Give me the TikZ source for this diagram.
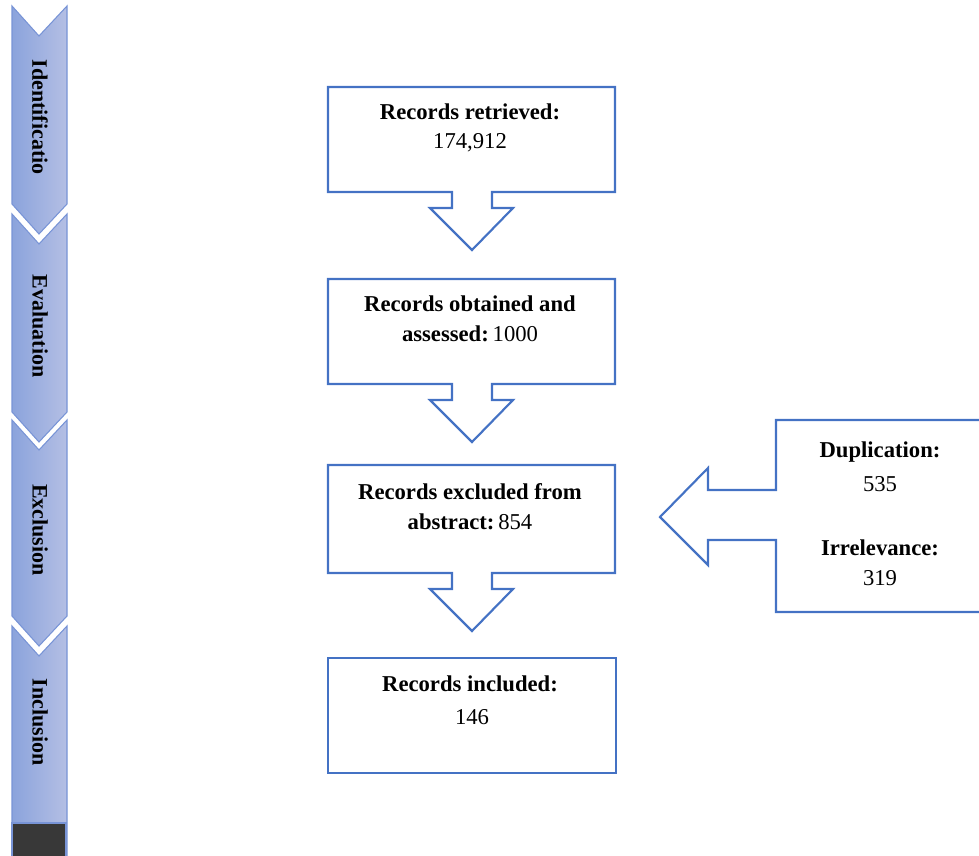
\documentclass[tikz,border=0pt]{standalone}
\usepackage{fontspec}
\setmainfont{Liberation Serif}
\begin{document}
\begin{tikzpicture}[x=0.75pt,y=-0.75pt,
  flow/.style={draw=boxblue,line width=1.6pt,line join=miter},
  chev/.style={draw=chevline,line width=0.8pt,left color=chevleft,right color=chevright},
  lbl/.style={font=\fontsize{17}{23}\selectfont,align=center,inner sep=0pt},
  vlbl/.style={font=\fontsize{16.5}{20}\selectfont\bfseries,rotate=-90,inner sep=0pt}]
\definecolor{boxblue}{HTML}{4472C4}
\definecolor{chevline}{HTML}{7894D6}
\definecolor{chevleft}{HTML}{8BA3DC}
\definecolor{chevright}{HTML}{B4BFE4}
\useasboundingbox (0,0) rectangle (979,856);
% left chevron bar
\path[chev] (12,6) -- (39,36) -- (67,6) -- (67,204) -- (39,234) -- (12,204) -- cycle;
\path[chev] (12,214) -- (39,244) -- (67,214) -- (67,412) -- (39,442) -- (12,412) -- cycle;
\path[chev] (12,420) -- (39,450) -- (67,420) -- (67,616) -- (39,646) -- (12,616) -- cycle;
\path[chev] (12,626) -- (39,656) -- (67,626) -- (67,860) -- (12,860) -- cycle;
\path[draw=chevline,line width=0.8pt,fill=black!78] (12,823) rectangle (66,860);
\node[vlbl] (s1) at (40,117) {Identificatio};
\node[vlbl] (s2) at (40,326) {Evaluation};
\node[vlbl] (s3) at (40,530) {Exclusion};
\node[vlbl] (s4) at (40,722) {Inclusion};
% box 1 with down arrow
\draw[flow] (328,87) -- (615,87) -- (615,192) -- (492,192) -- (492,208) -- (513,208) -- (472,250) -- (430,208) -- (452,208) -- (452,192) -- (328,192) -- cycle;
\node[lbl] (b1a) at (470,112) {\textbf{Records retrieved:}};
\node[lbl] (b1b) at (470,143) {174,912};
% box 2
\draw[flow] (328,279) -- (615,279) -- (615,384) -- (492,384) -- (492,400) -- (513,400) -- (472,442) -- (430,400) -- (452,400) -- (452,384) -- (328,384) -- cycle;
\node[lbl] (b2a) at (470,304) {\textbf{Records obtained and}};
\node[lbl] (b2b) at (470,334) {\textbf{assessed:}\,1000};
% box 3
\draw[flow] (328,465) -- (615,465) -- (615,573) -- (492,573) -- (492,589) -- (513,589) -- (472,631) -- (430,589) -- (452,589) -- (452,573) -- (328,573) -- cycle;
\node[lbl] (b3a) at (470,492) {\textbf{Records excluded from}};
\node[lbl] (b3b) at (470,522) {\textbf{abstract:}\,854};
% box 4
\draw[flow] (328,658) rectangle (616,773);
\node[lbl] (b4a) at (470,684) {\textbf{Records included:}};
\node[lbl] (b4b) at (472,717) {146};
% right callout with left arrow
\draw[flow] (776,420) -- (990,420) -- (990,612) -- (776,612) -- (776,540) -- (708,540) -- (708,565) -- (660,517) -- (708,468) -- (708,490) -- (776,490) -- cycle;
\node[lbl] (r1) at (880,452) {\textbf{Duplication:}};
\node[lbl] (r2) at (880,484) {535};
\node[lbl] (r3) at (880,548) {\textbf{Irrelevance:}};
\node[lbl] (r4) at (880,578) {319};
\end{tikzpicture}
\end{document}
